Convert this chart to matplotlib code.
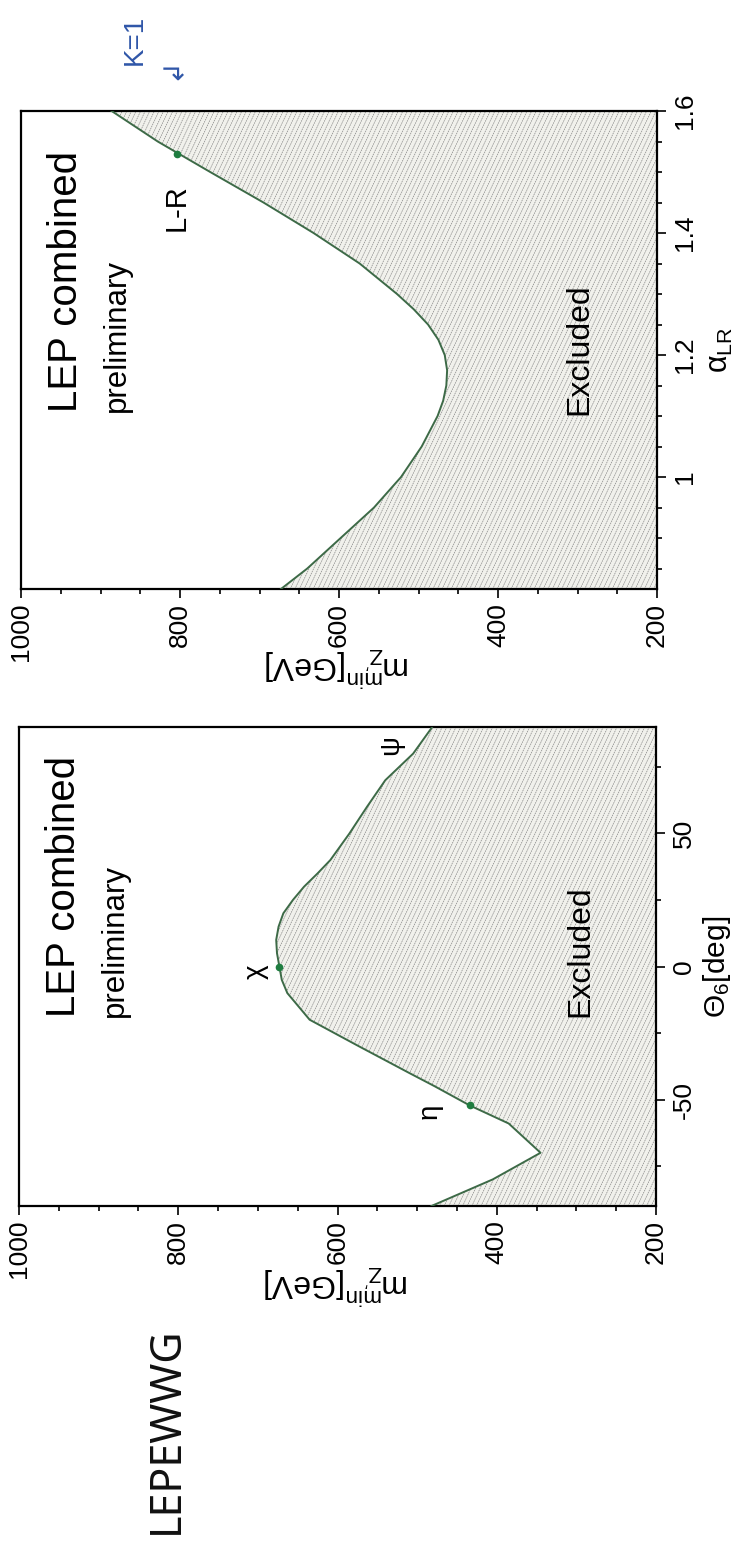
import numpy as np
import matplotlib
matplotlib.use("Agg")
import matplotlib.pyplot as plt
from matplotlib.collections import LineCollection
from matplotlib.ticker import MultipleLocator, FuncFormatter

plt.rcParams['font.family'] = ['Liberation Sans', 'DejaVu Sans']
plt.rcParams['mathtext.fontset'] = 'custom'
plt.rcParams['mathtext.rm'] = 'Liberation Sans'
plt.rcParams['mathtext.it'] = 'Liberation Sans:italic'
plt.rcParams['axes.unicode_minus'] = False

# --- data ---------------------------------------------------------------
# Left-right model: lower limit on m_Z' versus alpha_LR
alpha_lr = [0.8165, 0.85, 0.90, 0.95, 1.00, 1.05, 1.10, 1.125, 1.15, 1.175,
            1.20, 1.225, 1.25, 1.275, 1.30, 1.35, 1.40, 1.45, 1.50, 1.55, 1.60]
m_lr = [673, 640, 598, 556, 522, 496, 476, 469, 465, 464,
        467, 475, 488, 506, 527, 574, 632, 695, 762, 828, 886]
lr_point_alpha = [1.53]
lr_point_m = [804]
lr_point_names = ['L-R']

# E6 models: lower limit on m_Z' versus Theta_6
theta6 = [-90, -80, -70, -59, -52.2, -45, -40, -30, -20, -10, -5, 0,
          5, 10, 15, 20, 25, 30, 35, 40, 50, 60, 70, 80, 90]
m_e6 = [482, 405, 345, 385, 434, 478, 510, 573, 635, 663, 670, 673,
        676, 677, 674, 668, 656, 642, 625, 609, 585, 563, 540, 505, 481]
e6_point_theta = [0, -52.2]
e6_point_m = [673, 434]
e6_point_names = ['χ', 'η']

CURVE = '#3d6a47'
DOT = '#1f7d40'
FIG_W, FIG_H = 744, 1543


def fmt(v, pos):
    return f"{v:g}"


def hatch_fill(ax, ycurve, mcurve, w_px, h_px, spacing=4.6, angle=65):
    """Grey fill plus steep broken hatch lines, like the scanned plot"""
    coll = ax.fill_betweenx(ycurve, mcurve, 200, facecolor='#f1f1ec',
                            edgecolor='none', zorder=1)
    dx = (h_px / np.tan(np.radians(angle))) / w_px
    segs = [[(u, 0), (u + dx, 1)] for u in np.arange(-dx, 1.0, spacing / w_px)]
    lc = LineCollection(segs, transform=ax.transAxes, colors='#7c7c7c',
                        linewidths=0.45, linestyles=(0, (2.5, 1.2)), zorder=2)
    lc.set_clip_path(coll.get_paths()[0], ax.transData)
    ax.add_collection(lc)


def style_axes(ax, ymajor, yminor):
    ax.set_xlim(1000, 200)
    ax.xaxis.set_major_locator(MultipleLocator(200))
    ax.xaxis.set_minor_locator(MultipleLocator(50))
    ax.yaxis.set_major_locator(MultipleLocator(ymajor))
    ax.yaxis.set_minor_locator(MultipleLocator(yminor))
    ax.xaxis.set_major_formatter(FuncFormatter(fmt))
    ax.yaxis.set_major_formatter(FuncFormatter(fmt))
    ax.yaxis.tick_right()
    ax.tick_params(which='both', direction='out', width=1.2, labelsize=19)
    ax.tick_params(which='major', length=6.5)
    ax.tick_params(which='minor', length=3.6)
    ax.tick_params(axis='x', labelrotation=90, pad=3.5)
    ax.tick_params(axis='y', labelrotation=90, pad=5)
    for lab in ax.get_yticklabels():
        lab.set_va('center')
    for sp in ax.spines.values():
        sp.set_linewidth(1.6)


def panel_texts(ax, y0):
    ax.text(0.041, y0, 'LEP combined', transform=ax.transAxes, rotation=90,
            ha='left', va='bottom', fontsize=29, zorder=5)
    ax.text(0.127, y0, 'preliminary', transform=ax.transAxes, rotation=90,
            ha='left', va='bottom', fontsize=22.5, zorder=5)


fig = plt.figure(figsize=(FIG_W / 100, FIG_H / 100), dpi=100)

# ---------------- upper panel: alpha_LR -------------------------------------
ax1 = fig.add_axes([21 / FIG_W, 1 - 589 / FIG_H, 636 / FIG_W, 478 / FIG_H])
hatch_fill(ax1, alpha_lr, m_lr, 636, 478)
ax1.plot(m_lr, alpha_lr, color=CURVE, lw=1.4, zorder=3)
ax1.plot(lr_point_m, lr_point_alpha, 'o', color=DOT, ms=4.5, zorder=4)
style_axes(ax1, 0.2, 0.05)
ax1.set_ylim(np.sqrt(2 / 3), 1.6)
for name, m, a in zip(lr_point_names, lr_point_m, lr_point_alpha):
    ax1.annotate(name, (m, a), xytext=(0, -39), textcoords='offset points',
                 rotation=90, ha='center', va='center', fontsize=21, zorder=5)

panel_texts(ax1, 0.370)
ax1.text(0.855, 0.364, 'Excluded', transform=ax1.transAxes, rotation=90,
         ha='left', va='bottom', fontsize=23, zorder=5)

ax1.set_xlabel(r"m$_{\mathrm{Z'}}^{\mathrm{min}}$[GeV]", rotation=180,
               fontsize=23, ha='center', va='top')
ax1.xaxis.set_label_coords(0.498, -0.118)
ax1.text(1.112, 0.5, r"α$_{\mathrm{LR}}$", transform=ax1.transAxes,
         rotation=90, rotation_mode='anchor', ha='center', va='baseline',
         fontsize=22)

# ---------------- lower panel: Theta_6 --------------------------------------
ax2 = fig.add_axes([19 / FIG_W, 1 - 1206 / FIG_H, 637 / FIG_W, 479 / FIG_H])
hatch_fill(ax2, theta6, m_e6, 637, 479)
ax2.plot(m_e6, theta6, color=CURVE, lw=1.4, zorder=3)
ax2.plot(e6_point_m, e6_point_theta, 'o', color=DOT, ms=4.5, zorder=4)
style_axes(ax2, 50, 25)
ax2.set_ylim(-90, 90)
offsets = {'χ': (-17, -3.5), 'η': (-29, -4.5)}
for name, m, t in zip(e6_point_names, e6_point_m, e6_point_theta):
    ax2.annotate(name, (m, t), xytext=offsets[name], textcoords='offset points',
                 rotation=90, ha='center', va='center', fontsize=20, zorder=5)
ax2.annotate('ψ', (m_e6[-1], theta6[-1]), xytext=(-29.5, -13),
             textcoords='offset points', rotation=90, ha='center',
             va='center', fontsize=20, zorder=5)

panel_texts(ax2, 0.395)
ax2.text(0.857, 0.395, 'Excluded', transform=ax2.transAxes, rotation=90,
         ha='left', va='bottom', fontsize=23, zorder=5)

ax2.set_xlabel(r"m$_{\mathrm{Z'}}^{\mathrm{min}}$[GeV]", rotation=180,
               fontsize=23, ha='center', va='top')
ax2.xaxis.set_label_coords(0.498, -0.118)
ax2.text(1.108, 0.5, r"Θ$_{\mathrm{6}}$[deg]", transform=ax2.transAxes,
         rotation=90, rotation_mode='anchor', ha='center', va='baseline',
         fontsize=21.5)

# handwritten notes on the scan
fig.text(178 / FIG_W, 1 - 1430 / FIG_H, 'LEPEWWG', rotation=90,
         rotation_mode='anchor', ha='center', va='baseline', fontsize=31,
         color='#111111', family=['Noto Sans', 'Liberation Sans'],
         fontstretch='condensed', fontweight='light')
fig.text(135 / FIG_W, 1 - 40 / FIG_H, 'K=1', rotation=90, ha='center',
         va='center', fontsize=20, color='#2f56a8')
fig.text(172 / FIG_W, 1 - 68 / FIG_H, '↲', rotation=90, ha='center',
         va='center', fontsize=20, color='#2f56a8', family=['DejaVu Sans'])

fig.savefig('out.png', dpi=100)
